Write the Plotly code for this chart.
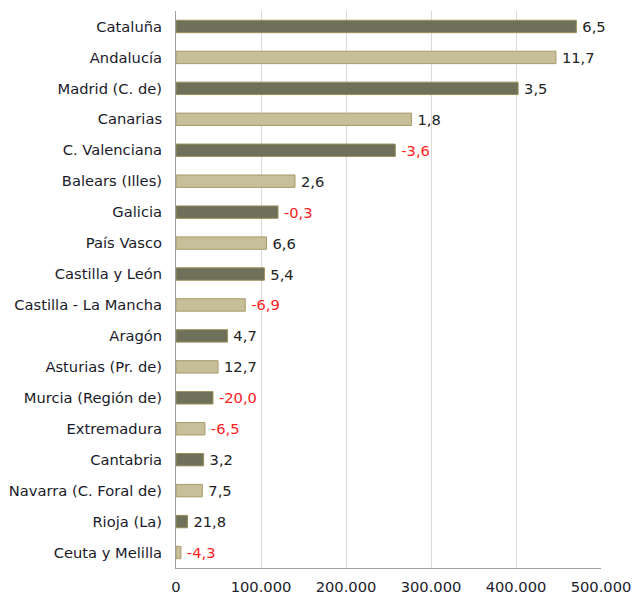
import plotly.graph_objects as go

# comunidades autónomas, de arriba abajo
regiones = [
    "Cataluña", "Andalucía", "Madrid (C. de)", "Canarias", "C. Valenciana",
    "Balears (Illes)", "Galicia", "País Vasco", "Castilla y León",
    "Castilla - La Mancha", "Aragón", "Asturias (Pr. de)", "Murcia (Región de)",
    "Extremadura", "Cantabria", "Navarra (C. Foral de)", "Rioja (La)",
    "Ceuta y Melilla",
]
valores = [
    471000, 447000, 402500, 277000, 258000,
    140000, 120000, 106500, 104000,
    81500, 60500, 49500, 43500,
    34000, 32500, 31000, 13500,
    5800,
]
variacion = [
    6.5, 11.7, 3.5, 1.8, -3.6,
    2.6, -0.3, 6.6, 5.4,
    -6.9, 4.7, 12.7, -20.0,
    -6.5, 3.2, 7.5, 21.8,
    -4.3,
]

OSCURO = "#6f705a"
CLARO = "#c6bf99"
FUENTE = "DejaVu Sans"
TAM = 14.7

relleno = [OSCURO if i % 2 == 0 else CLARO for i in range(len(regiones))]
borde = ["#9a8f5a" if i % 2 == 0 else "#a89b6a" for i in range(len(regiones))]
# espacio fino delante para separar la etiqueta de la barra
etiquetas = ["\u2009" + f"{v:.1f}".replace(".", ",") for v in variacion]
color_etiq = ["#ff2020" if v < 0 else "#222222" for v in variacion]

fig = go.Figure(go.Bar(
    x=valores,
    y=regiones,
    orientation="h",
    marker=dict(color=relleno, line=dict(color=borde, width=1)),
    text=etiquetas,
    textposition="outside",
    constraintext="none",
    textfont=dict(color=color_etiq, size=TAM, family=FUENTE),
    cliponaxis=False,
    hoverinfo="skip",
))

fig.update_layout(
    width=633,
    height=594,
    margin=dict(l=176, r=32, t=11, b=26),
    plot_bgcolor="white",
    paper_bgcolor="white",
    bargap=0.6,
    separators=",.",
    showlegend=False,
    font=dict(family=FUENTE, size=TAM, color="#1a1a2a"),
)
fig.update_xaxes(
    range=[0, 500000],
    dtick=100000,
    tickformat=",d",
    showgrid=True,
    gridcolor="#d9d9d9",
    gridwidth=1,
    showline=True,
    linecolor="#a0a0a0",
    zeroline=False,
    ticks="",
    ticklabelstandoff=5,
    tickfont=dict(size=TAM),
    automargin=False,
)
fig.update_yaxes(
    autorange="reversed",
    showline=True,
    linecolor="#a0a0a0",
    showgrid=False,
    ticks="",
    ticklabelstandoff=10,
    tickfont=dict(size=TAM),
    automargin=False,
)

# sin margen en el body para que la figura ocupe la ventana entera
fig.write_html(
    "out.html",
    config={"displayModeBar": False},
    post_script="document.body.style.margin='0';",
)
